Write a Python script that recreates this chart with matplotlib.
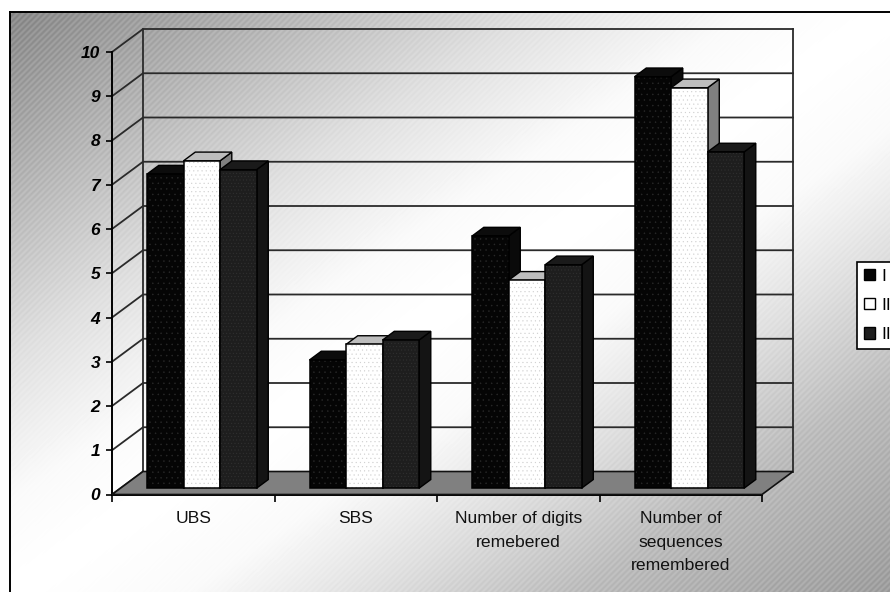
import numpy as np
import matplotlib
matplotlib.use('Agg')
import matplotlib.pyplot as plt
from matplotlib.patches import Polygon, Patch

categories = ['UBS', 'SBS', 'Number of digits\nremebered', 'Number of\nsequences\nremembered']
series_names = ['I', 'II', 'III']
vals_1 = [7.1, 2.9, 5.7, 9.3]
vals_2 = [7.4, 3.25, 4.7, 9.05]
vals_3 = [7.2, 3.35, 5.05, 7.6]
y_ticks = list(range(0, 11))

plt.rcParams['font.family'] = ['Liberation Sans', 'DejaVu Sans']
plt.rcParams['hatch.linewidth'] = 0.3

W, H = 890, 592
fig = plt.figure(figsize=(W / 100, H / 100), dpi=100, facecolor='white')

# chart area background: diagonal gradient with fine stripes
bg = fig.add_axes([10 / W, 0, 1 - 10 / W, 1 - 12 / H], zorder=0)
yy, xx = np.mgrid[0:580, 0:880]
t = (xx / 880 + yy / 580) / 2
shade = np.interp(t, [0, 0.17, 0.3, 0.42, 0.5, 0.6, 0.7, 0.82, 1],
                  [0.54, 0.73, 0.88, 0.98, 1.0, 0.98, 0.88, 0.74, 0.62])
stripes = np.sin(2 * np.pi * (xx + yy) / 6.0)
img = shade + stripes * 0.04 * (1 - shade) / 0.45
bg.imshow(img, cmap='gray', vmin=0, vmax=1, aspect='auto', interpolation='bilinear')
bg.set_xticks([])
bg.set_yticks([])
for s in ['right', 'bottom']:
    bg.spines[s].set_visible(False)
for s in ['left', 'top']:
    bg.spines[s].set_linewidth(1.4)

# front plane of the 3d box
ax = fig.add_axes([112 / W, 1 - 494.5 / H, 650 / W, 442.5 / H], zorder=1)
ax.patch.set_alpha(0)
ax.set_xlim(0, 4)
ax.set_ylim(0, 10)
for s in ['top', 'right']:
    ax.spines[s].set_visible(False)
for s in ['left', 'bottom']:
    ax.spines[s].set_linewidth(1.4)
    ax.spines[s].set_zorder(1)

# depth of the box in data units
dx = 31 / 162.5
dy = 23 / 44.25
line_c = '#2a2a2a'

for v in y_ticks[1:]:
    ax.plot([0, dx, 4 + dx], [v, v + dy, v + dy], color=line_c, lw=1.3, clip_on=False, zorder=1)
ax.plot([dx, dx], [dy, 10 + dy], color=line_c, lw=1.3, clip_on=False, zorder=1)
ax.plot([4 + dx, 4 + dx], [dy, 10 + dy], color=line_c, lw=1.3, clip_on=False, zorder=1)
ax.plot([0, dx], [0, dy], color=line_c, lw=1.3, clip_on=False, zorder=1)

# floor
ax.add_patch(Polygon([(0, 0), (dx, dy), (4 + dx, dy), (4, 0)], closed=True, facecolor='#808080',
                     edgecolor='#111111', lw=1.2, clip_on=False, zorder=2))

x_pos = np.arange(len(categories))
bar_w = 36.5 / 162.5
start = 35 / 162.5
d0 = 0.27
d1 = 0.65

styles = [
    dict(face='#050505', top='#0c0c0c', side='#0a0a0a', hatch_c='#2a2a2a', hatch='...'),
    dict(face='#ffffff', top='#bdbdbd', side='#808080', hatch_c='#cfcfcf', hatch='....'),
    dict(face='#1e1e1e', top='#1a1a1a', side='#141414', hatch_c='#343434', hatch='.....'),
]

z = 3
for g in range(len(categories)):
    for i, vals in enumerate([vals_1, vals_2, vals_3]):
        st = styles[i]
        x0 = x_pos[g] + start + i * bar_w
        x1 = x0 + bar_w
        v = vals[g]
        base = d0 * dy
        ox = (d1 - d0) * dx
        oy = (d1 - d0) * dy
        # side and top faces first, front face over them
        ax.add_patch(Polygon([(x1, base), (x1 + ox, base + oy), (x1 + ox, base + oy + v), (x1, base + v)],
                             facecolor=st['side'], edgecolor='black', lw=1.0, clip_on=False, zorder=z))
        ax.add_patch(Polygon([(x0, base + v), (x0 + ox, base + oy + v), (x1 + ox, base + oy + v), (x1, base + v)],
                             facecolor=st['top'], edgecolor='black', lw=1.0, clip_on=False, zorder=z))
        ax.bar(x0, v, bar_w, bottom=base, align='edge', color=st['face'], edgecolor=st['hatch_c'],
               hatch=st['hatch'], lw=0, clip_on=False, zorder=z + 0.1)
        ax.bar(x0, v, bar_w, bottom=base, align='edge', color='none', edgecolor='black',
               lw=1.1, clip_on=False, zorder=z + 0.2)
        z += 1

ax.set_yticks(y_ticks)
ax.set_yticklabels([str(v) for v in y_ticks], fontsize=12.5, fontweight='bold', fontstyle='italic')
ax.tick_params(axis='y', length=4.5, width=1.2, pad=4)
ax.set_xticks(range(0, 5))
ax.set_xticklabels([])
ax.tick_params(axis='x', length=5, width=1.2)
for g, name in enumerate(categories):
    ax.annotate(name, (g + 0.5, 0), xytext=(0, -12), textcoords='offset points', ha='center', va='top',
                fontsize=12.6, linespacing=1.72, color='#111111', annotation_clip=False)

handles = [Patch(facecolor=styles[i]['face'], edgecolor='black', lw=1.0) for i in range(3)]
leg = fig.legend(handles, series_names, loc='upper left', bbox_to_anchor=(857 / W, 1 - 261.5 / H),
                 fontsize=12.6, frameon=True, fancybox=False, framealpha=1, facecolor='white', edgecolor='black',
                 handlelength=0.63, handleheight=0.63, handletextpad=0.38, labelspacing=0.82,
                 borderpad=0.4, borderaxespad=0)
leg.get_frame().set_linewidth(1.2)
leg.set_zorder(5)

fig.savefig('out.png', dpi=100)
